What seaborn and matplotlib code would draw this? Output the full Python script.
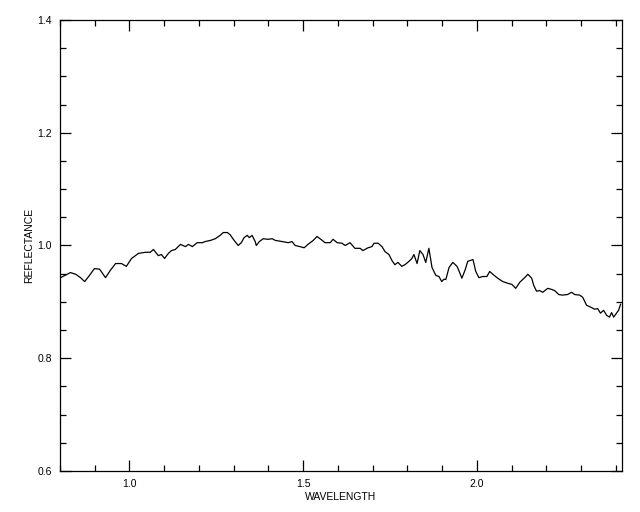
import matplotlib
matplotlib.use("Agg")
import matplotlib.pyplot as plt
from matplotlib.ticker import MultipleLocator
import seaborn as sns
import pandas as pd

# spectrum
wavelength = [
    0.802, 0.830, 0.845, 0.859, 0.871, 0.885, 0.899, 0.914, 0.931, 0.945,
    0.960, 0.977, 0.991, 1.006, 1.026, 1.046, 1.060, 1.069, 1.083, 1.092,
    1.101, 1.112, 1.121, 1.132, 1.147, 1.161, 1.170, 1.181, 1.195, 1.210,
    1.218, 1.233, 1.247, 1.261, 1.270, 1.282, 1.290, 1.299, 1.313, 1.322,
    1.330, 1.339, 1.345, 1.353, 1.362, 1.365, 1.374, 1.385, 1.399, 1.411,
    1.420, 1.440, 1.457, 1.468, 1.477, 1.491, 1.503, 1.514, 1.529, 1.540,
    1.555, 1.563, 1.578, 1.586, 1.598, 1.612, 1.621, 1.635, 1.649, 1.664,
    1.672, 1.687, 1.698, 1.704, 1.716, 1.727, 1.736, 1.747, 1.756, 1.764,
    1.773, 1.784, 1.793, 1.805, 1.813, 1.819, 1.828, 1.836, 1.845, 1.853,
    1.862, 1.871, 1.882, 1.891, 1.899, 1.905, 1.911, 1.920, 1.931, 1.943,
    1.948, 1.957, 1.966, 1.974, 1.989, 1.997, 2.006, 2.017, 2.029, 2.037,
    2.046, 2.060, 2.075, 2.089, 2.101, 2.112, 2.124, 2.138, 2.147, 2.158,
    2.164, 2.172, 2.181, 2.190, 2.204, 2.216, 2.224, 2.236, 2.247, 2.261,
    2.273, 2.282, 2.296, 2.305, 2.316, 2.330, 2.339, 2.348, 2.356, 2.365,
    2.374, 2.382, 2.388, 2.394, 2.402, 2.408, 2.414,
]
reflectance = [
    0.943, 0.952, 0.949, 0.943, 0.936, 0.947, 0.959, 0.958, 0.943, 0.956,
    0.968, 0.968, 0.963, 0.977, 0.986, 0.988, 0.988, 0.993, 0.982, 0.984,
    0.977, 0.986, 0.991, 0.993, 1.002, 0.998, 1.002, 0.998, 1.005, 1.005,
    1.007, 1.009, 1.012, 1.018, 1.023, 1.023, 1.019, 1.011, 1.000, 1.005,
    1.014, 1.018, 1.014, 1.018, 1.007, 1.000, 1.007, 1.012, 1.011, 1.012,
    1.009, 1.007, 1.005, 1.007, 1.000, 0.998, 0.996, 1.002, 1.009, 1.016,
    1.009, 1.005, 1.005, 1.011, 1.005, 1.004, 1.000, 1.005, 0.995, 0.995,
    0.991, 0.996, 0.998, 1.004, 1.004, 0.998, 0.989, 0.984, 0.973, 0.966,
    0.970, 0.963, 0.966, 0.972, 0.977, 0.984, 0.968, 0.991, 0.984, 0.970,
    0.995, 0.961, 0.947, 0.945, 0.936, 0.940, 0.940, 0.961, 0.970, 0.963,
    0.956, 0.942, 0.956, 0.972, 0.975, 0.954, 0.943, 0.945, 0.945, 0.954,
    0.949, 0.942, 0.936, 0.933, 0.931, 0.924, 0.935, 0.943, 0.949, 0.942,
    0.929, 0.919, 0.920, 0.917, 0.924, 0.922, 0.920, 0.913, 0.912, 0.913,
    0.917, 0.913, 0.912, 0.908, 0.894, 0.890, 0.887, 0.888, 0.880, 0.885,
    0.876, 0.873, 0.881, 0.873, 0.880, 0.885, 0.896,
]

df = pd.DataFrame({"WAVELENGTH": wavelength, "REFLECTANCE": reflectance})

sns.set_style("white")
plt.rcParams["font.family"] = ["Liberation Sans", "DejaVu Sans"]
plt.rcParams["text.color"] = "black"
plt.rcParams["axes.labelcolor"] = "black"

fig = plt.figure(figsize=(6.4, 5.12), dpi=100)
ax = fig.add_axes([60 / 640, 41 / 512, 562 / 640, 451 / 512])

sns.lineplot(data=df, x="WAVELENGTH", y="REFLECTANCE", ax=ax,
             color="black", linewidth=0.9, sort=False, estimator=None)

ax.set_xlim(0.8, 2.418)
ax.set_ylim(0.6, 1.4)
ax.xaxis.set_major_locator(MultipleLocator(0.5))
ax.xaxis.set_minor_locator(MultipleLocator(0.1))
ax.yaxis.set_major_locator(MultipleLocator(0.2))
ax.yaxis.set_minor_locator(MultipleLocator(0.05))
ax.xaxis.set_major_formatter(plt.FormatStrFormatter("%.1f"))
ax.yaxis.set_major_formatter(plt.FormatStrFormatter("%.1f"))

ax.tick_params(which="both", direction="in", top=True, right=True,
               bottom=True, left=True, labeltop=False, labelright=False,
               color="black", labelcolor="black", width=0.9,
               labelsize=7.5, pad=6)
ax.tick_params(which="major", length=8)
ax.tick_params(which="minor", length=4.5)
for sp in ax.spines.values():
    sp.set_color("black")
    sp.set_linewidth(0.9)

ax.set_xlabel("WAVELENGTH", fontsize=7.5, labelpad=2, color="black")
ax.set_ylabel("REFLECTANCE", fontsize=7.5, labelpad=2, color="black")

fig.savefig("out.png", dpi=100, facecolor="white")
